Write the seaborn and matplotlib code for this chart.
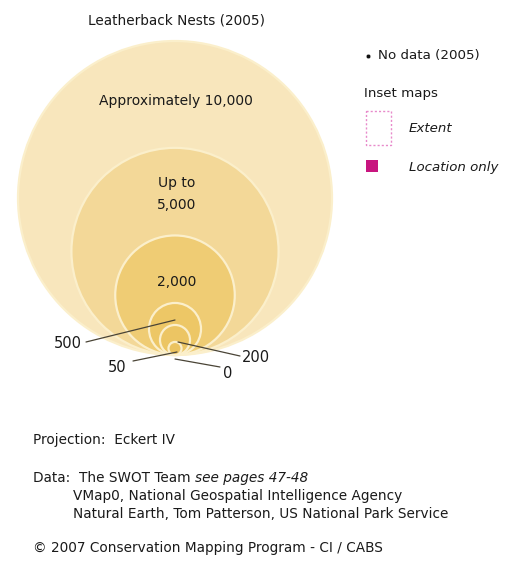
import matplotlib
matplotlib.use("Agg")
import matplotlib.pyplot as plt
from matplotlib.patches import Circle, Rectangle
import seaborn as sns

sns.set_theme(style="white")
plt.rcParams['font.family'] = ['DejaVu Sans']

# ---- data ----
title = "Leatherback Nests (2005)"
nest_values = [10000, 5000, 2000, 500, 200, 50, 0]
inner_labels = ["Approximately 10,000", "Up to\n5,000", "2,000"]
callout_labels = ["500", "200", "50", "0"]
circle_colors = ["#F8E6BC", "#F3D898", "#EFCC74", "#EDC766", "#ECC563", "#EBC360"]
legend_items = ["No data (2005)", "Inset maps", "Extent", "Location only"]
footer_lines = [
    "Projection:  Eckert IV",
    "VMap0, National Geospatial Intelligence Agency",
    "Natural Earth, Tom Patterson, US National Park Service",
    "\u00a9 2007 Conservation Mapping Program - CI / CABS",
]

W, H = 530, 565
fig = plt.figure(figsize=(W / 100, H / 100), dpi=100)
ax = fig.add_axes([0, 0, 1, 1])
ax.set_xlim(0, W)
ax.set_ylim(H, 0)
ax.set_aspect('auto')
ax.axis('off')

# nested circles, all tangent at a common bottom point
cx, base, rmax = 175, 355, 157
radii = []
for v in nest_values[:-1]:
    r = rmax * (v / nest_values[0]) ** 0.6
    radii.append(r)
for r, c in zip(radii, circle_colors):
    ax.add_patch(Circle((cx, base - r), r, facecolor=c, edgecolor="#FBEFCB",
                        linewidth=1.6, zorder=2))

tkw = dict(ha='center', va='center', color='#1a1a1a', zorder=5)
ax.text(cx + 1, 21, title, fontsize=9.8, **tkw)
ax.text(cx + 1, 101, inner_labels[0], fontsize=10, **tkw)
ax.text(cx + 2, 194, inner_labels[1], fontsize=10, linespacing=1.75, **tkw)
ax.text(cx + 2, 282, inner_labels[2], fontsize=10, **tkw)

# callouts
lc = '#4a4436'
ax.plot([86, 175], [342, 320], color=lc, lw=0.9, zorder=4)
ax.plot([178, 240], [342, 356], color=lc, lw=0.9, zorder=4)
ax.plot([133, 177], [361, 352], color=lc, lw=0.9, zorder=4)
ax.plot([175, 220], [359, 367], color=lc, lw=0.9, zorder=4)
ax.text(68, 343, callout_labels[0], fontsize=10.5, **tkw)
ax.text(256, 358, callout_labels[1], fontsize=10.5, **tkw)
ax.text(117, 367, callout_labels[2], fontsize=10.5, **tkw)
ax.text(228, 373, callout_labels[3], fontsize=10.5, **tkw)

# legend
lkw = dict(ha='left', va='center', color='#1a1a1a', fontsize=9.6)
sns.scatterplot(x=[368], y=[56], s=10, color='#111111', ax=ax, zorder=5, legend=False)
ax.text(378, 56, legend_items[0], **lkw)
ax.text(364, 93, legend_items[1], **lkw)
ax.add_patch(Rectangle((366, 111), 25, 34, facecolor='none', edgecolor='#E88ACB',
                       linewidth=1.0, linestyle=(0, (1.5, 1.5)), zorder=4))
ax.text(409, 129, legend_items[2], style='italic', **lkw)
ax.add_patch(Rectangle((366, 160), 12, 12, facecolor='#C8157F', edgecolor='none', zorder=4))
ax.text(409, 167, legend_items[3], style='italic', **lkw)

# footer
fkw = dict(ha='left', va='center', color='#1a1a1a', fontsize=9.8)
ax.text(33, 440, footer_lines[0], **fkw)
t1 = ax.text(33, 478, "Data:  The SWOT Team ", **fkw)
fig.canvas.draw()
bb = t1.get_window_extent()
x_end = ax.transData.inverted().transform((bb.x1, bb.y0))[0]
ax.text(x_end, 478, "see pages 47-48", style='italic', **fkw)
ax.text(73, 496, footer_lines[1], **fkw)
ax.text(73, 514, footer_lines[2], **fkw)
ax.text(33, 548, footer_lines[3], **fkw)

fig.savefig("out.png", dpi=100)
